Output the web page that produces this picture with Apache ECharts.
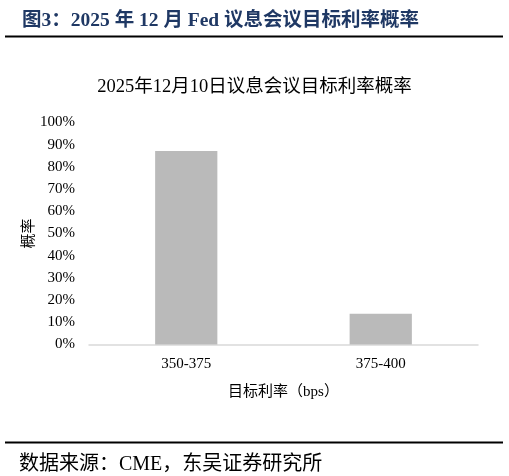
<!DOCTYPE html>
<html>
<head>
<meta charset="utf-8">
<script src="https://cdn.jsdelivr.net/npm/echarts@6/dist/echarts.min.js"></script>
<style>html,body{margin:0;padding:0;background:#fff;}#c{width:509px;height:476px;}</style>
</head>
<body>
<div id="c"></div>
<script>
var categories = ['350-375', '375-400'];
var probabilities = [87.2, 13.8];
var yTicks = [0, 10, 20, 30, 40, 50, 60, 70, 80, 90, 100];

var serif = '"Liberation Serif", "Noto Sans CJK SC", serif';
var chart = echarts.init(document.getElementById('c'));
chart.setOption({
  backgroundColor: '#fff',
  animation: false,
  title: [
    { text: '图3：2025 年 12 月 Fed 议息会议目标利率概率', left: 17, top: 6,
      textStyle: { fontFamily: serif, fontSize: 19.5, fontWeight: 'bold', color: '#1f3864' } },
    { text: '2025年12月10日议息会议目标利率概率', left: 'center', top: 73,
      textStyle: { fontFamily: serif, fontSize: 18.5, fontWeight: 'normal', color: '#000' } },
    { text: '数据来源：CME，东吴证券研究所', left: 14, top: 450,
      textStyle: { fontFamily: serif, fontSize: 20, fontWeight: 'normal', color: '#000' } }
  ],
  graphic: [
    { type: 'line', shape: { x1: 5, y1: 36.5, x2: 503, y2: 36.5 }, style: { stroke: '#000', lineWidth: 2 } },
    { type: 'line', shape: { x1: 5, y1: 442.5, x2: 503, y2: 442.5 }, style: { stroke: '#000', lineWidth: 2 } }
  ],
  grid: { left: 89, right: 31, top: 122.5, bottom: 131.5 },
  xAxis: {
    type: 'category',
    data: categories,
    name: '目标利率（bps）',
    nameLocation: 'middle',
    nameGap: 40,
    nameTextStyle: { fontFamily: serif, fontSize: 15, color: '#000' },
    axisLine: { lineStyle: { color: '#d9d9d9', width: 1.5 } },
    axisTick: { show: false },
    axisLabel: { fontFamily: serif, fontSize: 15, color: '#000', margin: 12 }
  },
  yAxis: {
    type: 'value',
    min: yTicks[0],
    max: yTicks[yTicks.length - 1],
    interval: 10,
    name: '概率',
    nameLocation: 'middle',
    nameGap: 52,
    nameRotate: 90,
    nameMoveOverlap: false,
    nameTextStyle: { fontFamily: serif, fontSize: 15, color: '#000' },
    axisLine: { show: false },
    axisTick: { show: false },
    splitLine: { show: false },
    axisLabel: { fontFamily: serif, fontSize: 15, color: '#000', margin: 14,
      formatter: function (v) { return v + '%'; } }
  },
  series: [{
    type: 'bar',
    data: probabilities,
    barWidth: '32%',
    itemStyle: { color: '#bababa' }
  }]
});
</script>
</body>
</html>
